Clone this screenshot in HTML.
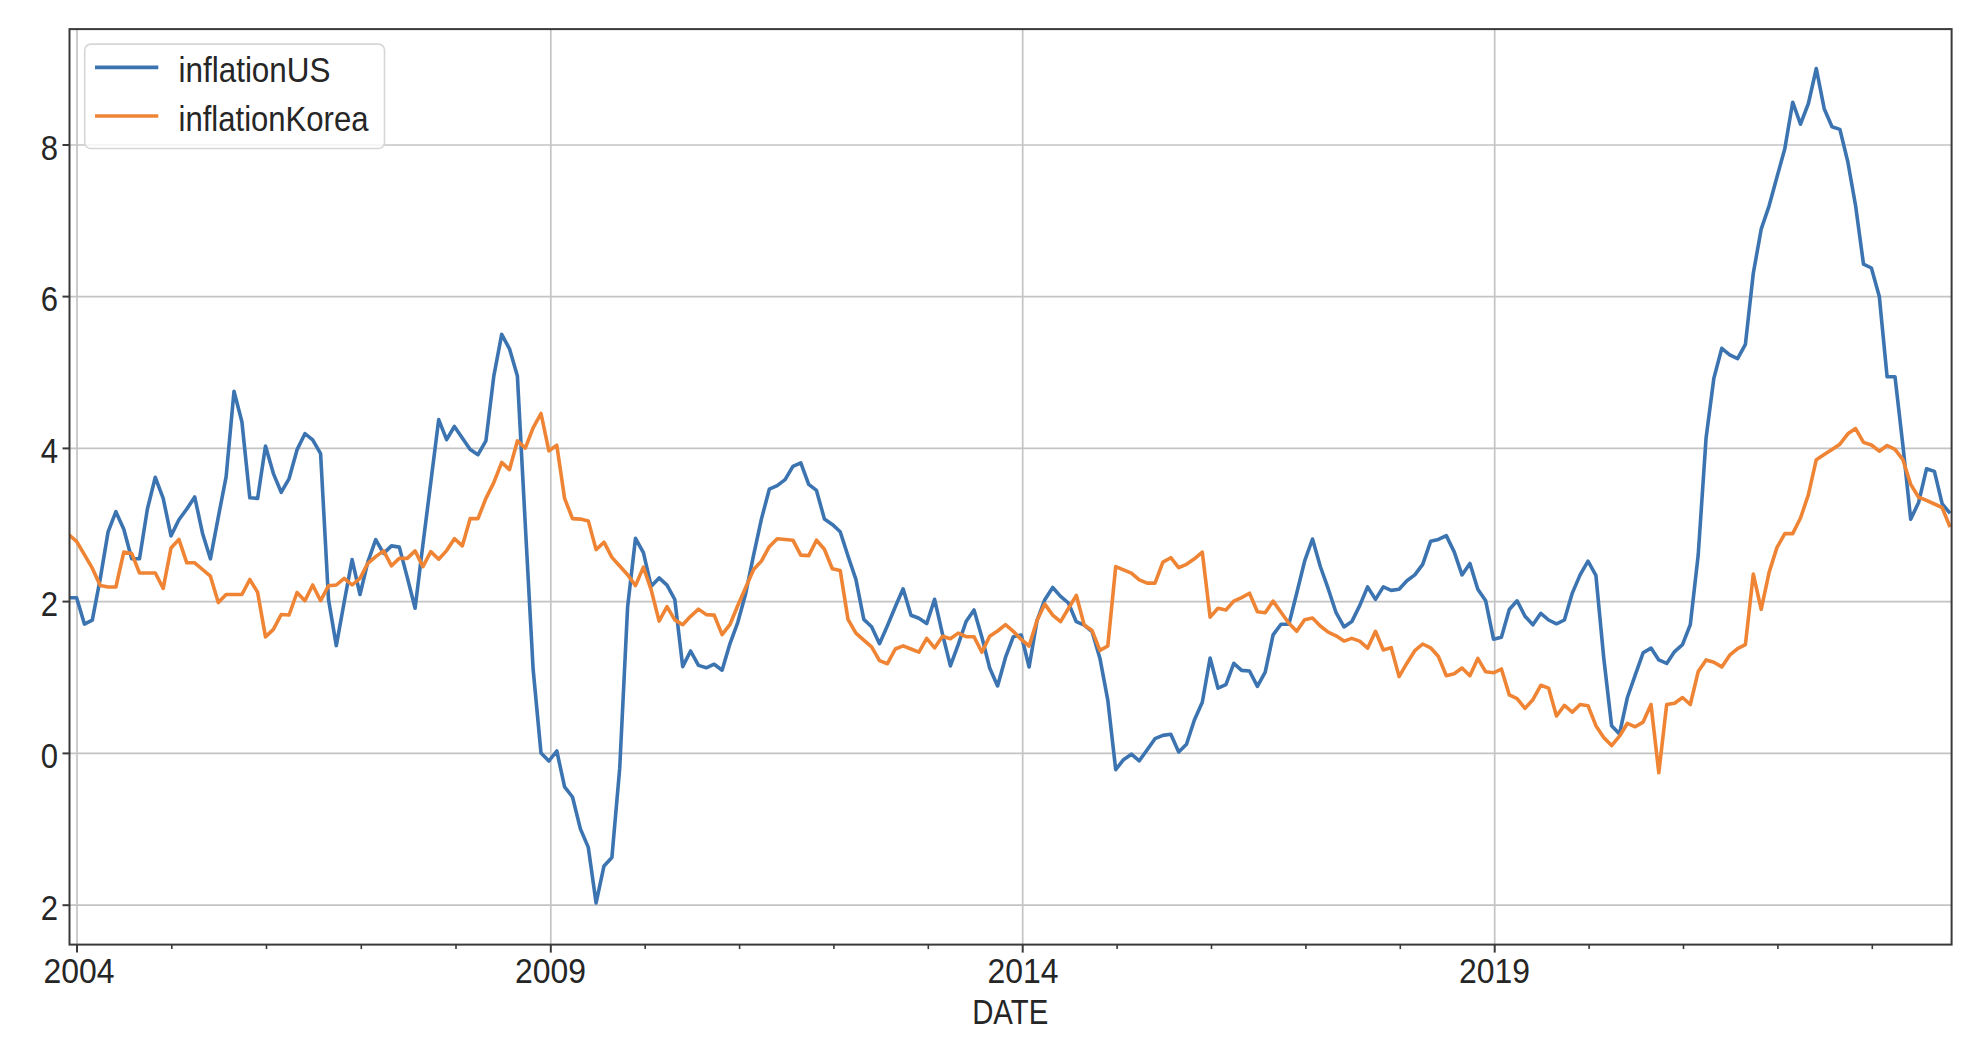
<!DOCTYPE html>
<html><head><meta charset="utf-8"><title>chart</title>
<style>html,body{margin:0;padding:0;background:#fff;width:1980px;height:1042px;overflow:hidden}svg{display:block}</style>
</head><body>
<svg width="1980" height="1042" viewBox="0 0 1980 1042">
<rect x="0" y="0" width="1980" height="1042" fill="#ffffff"/>
<g>
<line x1="69.5" y1="145.0" x2="1951.6" y2="145.0" stroke="#c4c4c4" stroke-width="1.7"/>
<line x1="69.5" y1="296.6" x2="1951.6" y2="296.6" stroke="#c4c4c4" stroke-width="1.7"/>
<line x1="69.5" y1="448.4" x2="1951.6" y2="448.4" stroke="#c4c4c4" stroke-width="1.7"/>
<line x1="69.5" y1="601.6" x2="1951.6" y2="601.6" stroke="#c4c4c4" stroke-width="1.7"/>
<line x1="69.5" y1="753.4" x2="1951.6" y2="753.4" stroke="#c4c4c4" stroke-width="1.7"/>
<line x1="69.5" y1="905.2" x2="1951.6" y2="905.2" stroke="#c4c4c4" stroke-width="1.7"/>
<line x1="77.0" y1="29.1" x2="77.0" y2="944.6" stroke="#c4c4c4" stroke-width="1.7"/>
<line x1="550.8" y1="29.1" x2="550.8" y2="944.6" stroke="#c4c4c4" stroke-width="1.7"/>
<line x1="1022.7" y1="29.1" x2="1022.7" y2="944.6" stroke="#c4c4c4" stroke-width="1.7"/>
<line x1="1494.7" y1="29.1" x2="1494.7" y2="944.6" stroke="#c4c4c4" stroke-width="1.7"/>
<clipPath id="c"><rect x="69.5" y="29.1" width="1882.1" height="915.5"/></clipPath>
<g clip-path="url(#c)" fill="none" stroke-width="3.6" stroke-linejoin="round" stroke-linecap="butt">
<polyline points="68.7,597.7 76.6,597.7 84.4,624.1 92.3,620.1 100.2,578.9 108.1,531.9 115.9,511.7 123.8,529.2 131.7,558.8 139.5,558.8 147.4,509.0 155.3,477.3 163.2,498.3 171.0,535.9 178.9,519.8 186.8,509.0 194.7,496.9 202.5,533.2 210.4,558.8 218.3,517.1 226.1,476.8 234.0,391.3 241.9,421.7 249.8,497.8 257.6,498.4 265.5,446.1 273.4,473.6 281.2,492.3 289.1,478.6 297.0,449.9 304.9,433.7 312.7,439.9 320.6,453.6 328.5,599.5 336.3,645.6 344.2,602.0 352.1,559.6 360.0,594.5 367.8,562.1 375.7,539.7 383.6,553.4 391.5,545.9 399.3,547.1 407.2,577.1 415.1,608.2 422.9,544.6 430.8,482.3 438.7,419.6 446.6,439.7 454.4,426.5 462.3,438.0 470.2,449.5 478.0,454.7 485.9,440.9 493.8,376.1 501.7,334.4 509.5,348.8 517.4,376.1 525.3,525.0 533.1,669.0 541.0,753.0 548.9,761.0 556.8,751.0 564.6,786.9 572.5,797.0 580.4,828.9 588.3,847.4 596.1,902.9 604.0,865.9 611.9,857.5 619.7,768.4 627.6,607.1 635.5,538.3 643.4,552.7 651.2,586.3 659.1,577.9 667.0,585.1 674.8,599.5 682.7,666.6 690.6,651.0 698.5,665.4 706.3,667.8 714.2,664.2 722.1,670.2 729.9,643.8 737.8,622.3 745.7,593.5 753.6,555.1 761.4,519.1 769.3,489.2 777.2,485.6 785.1,479.6 792.9,466.4 800.8,462.8 808.7,484.4 816.5,490.4 824.4,519.1 832.3,524.4 840.2,531.7 848.0,556.0 855.9,579.3 863.8,619.4 871.6,626.8 879.5,643.7 887.4,625.7 895.3,606.7 903.1,588.8 911.0,615.2 918.9,618.3 926.7,623.6 934.6,599.3 942.5,634.2 950.4,665.9 958.2,644.7 966.1,621.5 974.0,609.9 981.9,637.3 989.7,668.0 997.6,685.9 1005.5,657.4 1013.3,636.7 1021.2,635.0 1029.1,667.0 1037.0,620.6 1044.8,599.7 1052.7,587.5 1060.6,596.4 1068.4,603.0 1076.3,621.7 1084.2,625.1 1092.1,631.7 1099.9,658.2 1107.8,700.1 1115.7,769.6 1123.5,759.7 1131.4,754.2 1139.3,760.8 1147.2,749.8 1155.0,738.7 1162.9,735.4 1170.8,734.3 1178.7,752.0 1186.5,744.3 1194.4,720.0 1202.3,702.3 1210.1,658.0 1218.0,688.2 1225.9,684.6 1233.8,663.3 1241.6,670.4 1249.5,671.0 1257.4,686.4 1265.2,672.2 1273.1,634.9 1281.0,624.2 1288.9,624.2 1296.7,593.2 1304.6,561.2 1312.5,539.0 1320.3,566.5 1328.2,588.7 1336.1,612.7 1344.0,626.9 1351.8,621.6 1359.7,605.6 1367.6,586.9 1375.5,599.4 1383.3,586.9 1391.2,590.4 1399.1,589.3 1406.9,580.7 1414.8,574.9 1422.7,564.3 1430.6,541.3 1438.4,539.4 1446.3,535.6 1454.2,551.9 1462.0,574.9 1469.9,563.4 1477.8,589.3 1485.7,600.8 1493.5,639.2 1501.4,637.3 1509.3,609.5 1517.1,600.8 1525.0,616.2 1532.9,624.8 1540.8,613.3 1548.6,620.0 1556.5,623.8 1564.4,620.0 1572.3,593.1 1580.1,574.9 1588.0,561.2 1595.9,575.3 1603.7,657.5 1611.6,725.7 1619.5,733.9 1627.4,697.5 1635.2,675.1 1643.1,652.8 1651.0,648.1 1658.8,659.9 1666.7,663.4 1674.6,651.6 1682.5,644.6 1690.3,624.6 1698.2,555.0 1706.1,437.7 1713.9,378.1 1721.8,348.3 1729.7,354.8 1737.6,358.7 1745.4,344.4 1753.3,273.2 1761.2,229.2 1769.1,205.8 1776.9,177.3 1784.8,148.8 1792.7,102.2 1800.5,124.2 1808.4,103.5 1816.3,68.5 1824.2,108.7 1832.0,126.8 1839.9,129.4 1847.8,161.8 1855.6,205.8 1863.5,264.2 1871.4,268.0 1879.3,296.5 1887.1,376.8 1895.0,376.8 1902.9,445.5 1910.7,519.3 1918.6,502.5 1926.5,468.8 1934.4,471.4 1942.2,503.8 1950.1,513.4" stroke="#3b74b0"/>
<polyline points="68.7,534.6 76.6,541.3 84.4,554.7 92.3,568.2 100.2,585.6 108.1,587.0 115.9,587.0 123.8,552.0 131.7,553.4 139.5,573.0 147.4,573.0 155.3,573.0 163.2,588.3 171.0,548.0 178.9,539.4 186.8,562.8 194.7,562.8 202.5,569.5 210.4,576.2 218.3,602.6 226.1,594.5 234.0,594.5 241.9,594.5 249.8,579.5 257.6,592.2 265.5,636.9 273.4,629.4 281.2,614.5 289.1,615.0 297.0,592.5 304.9,600.7 312.7,585.0 320.6,600.7 328.5,585.8 336.3,585.0 344.2,578.3 352.1,585.0 360.0,578.3 367.8,563.3 375.7,556.6 383.6,550.9 391.5,565.8 399.3,558.4 407.2,558.4 415.1,550.9 422.9,566.6 430.8,551.6 438.7,559.2 446.6,550.6 454.4,538.7 462.3,545.9 470.2,518.6 478.0,518.6 485.9,498.4 493.8,482.6 501.7,462.4 509.5,469.6 517.4,440.9 525.3,448.1 533.1,427.9 541.0,413.5 548.9,450.9 556.8,445.2 564.6,498.4 572.5,518.6 580.4,519.1 588.3,520.9 596.1,549.6 604.0,542.2 611.9,557.4 619.7,566.0 627.6,574.7 635.5,585.6 643.4,567.1 651.2,589.9 659.1,621.1 667.0,606.7 674.8,619.9 682.7,624.7 690.6,616.3 698.5,609.1 706.3,614.6 714.2,615.1 722.1,634.7 729.9,624.7 737.8,605.5 745.7,587.5 753.6,569.5 761.4,561.1 769.3,546.7 777.2,538.8 785.1,539.5 792.9,540.2 800.8,555.1 808.7,555.6 816.5,540.2 824.4,549.2 832.3,568.7 840.2,570.4 848.0,619.4 855.9,633.1 863.8,640.1 871.6,646.8 879.5,660.6 887.4,663.7 895.3,649.0 903.1,645.8 911.0,649.0 918.9,652.1 926.7,638.4 934.6,647.9 942.5,636.3 950.4,638.8 958.2,633.1 966.1,636.7 974.0,636.7 981.9,652.1 989.7,636.3 997.6,631.0 1005.5,624.7 1013.3,631.3 1021.2,639.4 1029.1,646.0 1037.0,620.6 1044.8,604.1 1052.7,615.1 1060.6,621.7 1068.4,608.5 1076.3,595.3 1084.2,625.1 1092.1,630.6 1099.9,650.4 1107.8,646.0 1115.7,566.6 1123.5,569.9 1131.4,573.2 1139.3,579.8 1147.2,583.1 1155.0,583.1 1162.9,562.1 1170.8,557.7 1178.7,567.7 1186.5,564.3 1194.4,558.8 1202.3,552.2 1210.1,617.1 1218.0,608.3 1225.9,610.0 1233.8,601.1 1241.6,597.6 1249.5,593.2 1257.4,611.8 1265.2,612.7 1273.1,601.1 1281.0,612.3 1288.9,623.3 1296.7,631.3 1304.6,619.8 1312.5,618.0 1320.3,626.0 1328.2,632.2 1336.1,635.8 1344.0,641.1 1351.8,638.4 1359.7,641.1 1367.6,648.2 1375.5,631.3 1383.3,650.0 1391.2,647.6 1399.1,676.6 1406.9,663.2 1414.8,650.7 1422.7,644.0 1430.6,647.8 1438.4,656.5 1446.3,675.7 1454.2,673.8 1462.0,668.0 1469.9,675.7 1477.8,658.4 1485.7,671.8 1493.5,672.8 1501.4,669.0 1509.3,694.9 1517.1,698.7 1525.0,708.3 1532.9,699.7 1540.8,685.3 1548.6,688.1 1556.5,716.0 1564.4,705.4 1572.3,712.1 1580.1,704.5 1588.0,705.7 1595.9,725.7 1603.7,737.4 1611.6,745.6 1619.5,736.2 1627.4,723.3 1635.2,726.8 1643.1,722.1 1651.0,704.5 1658.8,772.7 1666.7,704.5 1674.6,703.3 1682.5,697.5 1690.3,704.5 1698.2,671.6 1706.1,659.9 1713.9,662.2 1721.8,666.9 1729.7,655.2 1737.6,648.6 1745.4,644.6 1753.3,574.1 1761.2,609.3 1769.1,572.4 1776.9,547.6 1784.8,533.6 1792.7,533.6 1800.5,518.0 1808.4,494.7 1816.3,459.7 1824.2,454.6 1832.0,449.4 1839.9,444.2 1847.8,433.8 1855.6,428.6 1863.5,442.4 1871.4,445.0 1879.3,451.2 1887.1,445.5 1895.0,449.4 1902.9,459.7 1910.7,484.4 1918.6,497.3 1926.5,500.4 1934.4,504.0 1942.2,507.7 1950.1,527.1" stroke="#ee8434"/>
</g>
<rect x="69.5" y="29.1" width="1882.1" height="915.5" fill="none" stroke="#3a3a3a" stroke-width="2"/>
<line x1="62.5" y1="145.0" x2="69.5" y2="145.0" stroke="#3a3a3a" stroke-width="2"/>
<line x1="62.5" y1="296.6" x2="69.5" y2="296.6" stroke="#3a3a3a" stroke-width="2"/>
<line x1="62.5" y1="448.4" x2="69.5" y2="448.4" stroke="#3a3a3a" stroke-width="2"/>
<line x1="62.5" y1="601.6" x2="69.5" y2="601.6" stroke="#3a3a3a" stroke-width="2"/>
<line x1="62.5" y1="753.4" x2="69.5" y2="753.4" stroke="#3a3a3a" stroke-width="2"/>
<line x1="62.5" y1="905.2" x2="69.5" y2="905.2" stroke="#3a3a3a" stroke-width="2"/>
<line x1="77.0" y1="944.6" x2="77.0" y2="952.6" stroke="#3a3a3a" stroke-width="2"/>
<line x1="550.8" y1="944.6" x2="550.8" y2="952.6" stroke="#3a3a3a" stroke-width="2"/>
<line x1="1022.7" y1="944.6" x2="1022.7" y2="952.6" stroke="#3a3a3a" stroke-width="2"/>
<line x1="1494.7" y1="944.6" x2="1494.7" y2="952.6" stroke="#3a3a3a" stroke-width="2"/>
<line x1="171.8" y1="944.6" x2="171.8" y2="949.1" stroke="#3a3a3a" stroke-width="1.6"/>
<line x1="266.5" y1="944.6" x2="266.5" y2="949.1" stroke="#3a3a3a" stroke-width="1.6"/>
<line x1="361.3" y1="944.6" x2="361.3" y2="949.1" stroke="#3a3a3a" stroke-width="1.6"/>
<line x1="456.0" y1="944.6" x2="456.0" y2="949.1" stroke="#3a3a3a" stroke-width="1.6"/>
<line x1="645.2" y1="944.6" x2="645.2" y2="949.1" stroke="#3a3a3a" stroke-width="1.6"/>
<line x1="739.6" y1="944.6" x2="739.6" y2="949.1" stroke="#3a3a3a" stroke-width="1.6"/>
<line x1="833.9" y1="944.6" x2="833.9" y2="949.1" stroke="#3a3a3a" stroke-width="1.6"/>
<line x1="928.3" y1="944.6" x2="928.3" y2="949.1" stroke="#3a3a3a" stroke-width="1.6"/>
<line x1="1117.1" y1="944.6" x2="1117.1" y2="949.1" stroke="#3a3a3a" stroke-width="1.6"/>
<line x1="1211.5" y1="944.6" x2="1211.5" y2="949.1" stroke="#3a3a3a" stroke-width="1.6"/>
<line x1="1305.9" y1="944.6" x2="1305.9" y2="949.1" stroke="#3a3a3a" stroke-width="1.6"/>
<line x1="1400.3" y1="944.6" x2="1400.3" y2="949.1" stroke="#3a3a3a" stroke-width="1.6"/>
<line x1="1589.1" y1="944.6" x2="1589.1" y2="949.1" stroke="#3a3a3a" stroke-width="1.6"/>
<line x1="1683.5" y1="944.6" x2="1683.5" y2="949.1" stroke="#3a3a3a" stroke-width="1.6"/>
<line x1="1777.9" y1="944.6" x2="1777.9" y2="949.1" stroke="#3a3a3a" stroke-width="1.6"/>
<line x1="1872.3" y1="944.6" x2="1872.3" y2="949.1" stroke="#3a3a3a" stroke-width="1.6"/>
<text x="58" y="159.6" font-family='"Liberation Sans", sans-serif' font-size="35" fill="#262626" text-anchor="end" textLength="17.3" lengthAdjust="spacingAndGlyphs">8</text>
<text x="58" y="311.20000000000005" font-family='"Liberation Sans", sans-serif' font-size="35" fill="#262626" text-anchor="end" textLength="17.3" lengthAdjust="spacingAndGlyphs">6</text>
<text x="58" y="463.0" font-family='"Liberation Sans", sans-serif' font-size="35" fill="#262626" text-anchor="end" textLength="17.3" lengthAdjust="spacingAndGlyphs">4</text>
<text x="58" y="616.2" font-family='"Liberation Sans", sans-serif' font-size="35" fill="#262626" text-anchor="end" textLength="17.3" lengthAdjust="spacingAndGlyphs">2</text>
<text x="58" y="768.0" font-family='"Liberation Sans", sans-serif' font-size="35" fill="#262626" text-anchor="end" textLength="17.3" lengthAdjust="spacingAndGlyphs">0</text>
<text x="58" y="919.8000000000001" font-family='"Liberation Sans", sans-serif' font-size="35" fill="#262626" text-anchor="end" textLength="17.3" lengthAdjust="spacingAndGlyphs">2</text>
<text x="78.9" y="983" font-family='"Liberation Sans", sans-serif' font-size="34.5" fill="#262626" text-anchor="middle" textLength="71" lengthAdjust="spacingAndGlyphs">2004</text>
<text x="550.6" y="983" font-family='"Liberation Sans", sans-serif' font-size="34.5" fill="#262626" text-anchor="middle" textLength="71" lengthAdjust="spacingAndGlyphs">2009</text>
<text x="1022.9" y="983" font-family='"Liberation Sans", sans-serif' font-size="34.5" fill="#262626" text-anchor="middle" textLength="71" lengthAdjust="spacingAndGlyphs">2014</text>
<text x="1494.6" y="983" font-family='"Liberation Sans", sans-serif' font-size="34.5" fill="#262626" text-anchor="middle" textLength="71" lengthAdjust="spacingAndGlyphs">2019</text>
<text x="1010.2" y="1024" font-family='"Liberation Sans", sans-serif' font-size="34.5" fill="#262626" text-anchor="middle" textLength="76" lengthAdjust="spacingAndGlyphs">DATE</text>
<rect x="84.7" y="44.1" width="299.8" height="104.4" rx="6" ry="6" fill="#ffffff" fill-opacity="0.8" stroke="#d6d6d6" stroke-width="1.6"/>
<line x1="95" y1="67.4" x2="158.3" y2="67.4" stroke="#3b74b0" stroke-width="3.6"/>
<line x1="95" y1="116" x2="158.3" y2="116" stroke="#ee8434" stroke-width="3.6"/>
<text x="178.5" y="82" font-family='"Liberation Sans", sans-serif' font-size="34.5" fill="#262626" textLength="152" lengthAdjust="spacingAndGlyphs">inflationUS</text>
<text x="178.5" y="130.5" font-family='"Liberation Sans", sans-serif' font-size="34.5" fill="#262626" textLength="190" lengthAdjust="spacingAndGlyphs">inflationKorea</text>
</g>
</svg>
</body></html>
